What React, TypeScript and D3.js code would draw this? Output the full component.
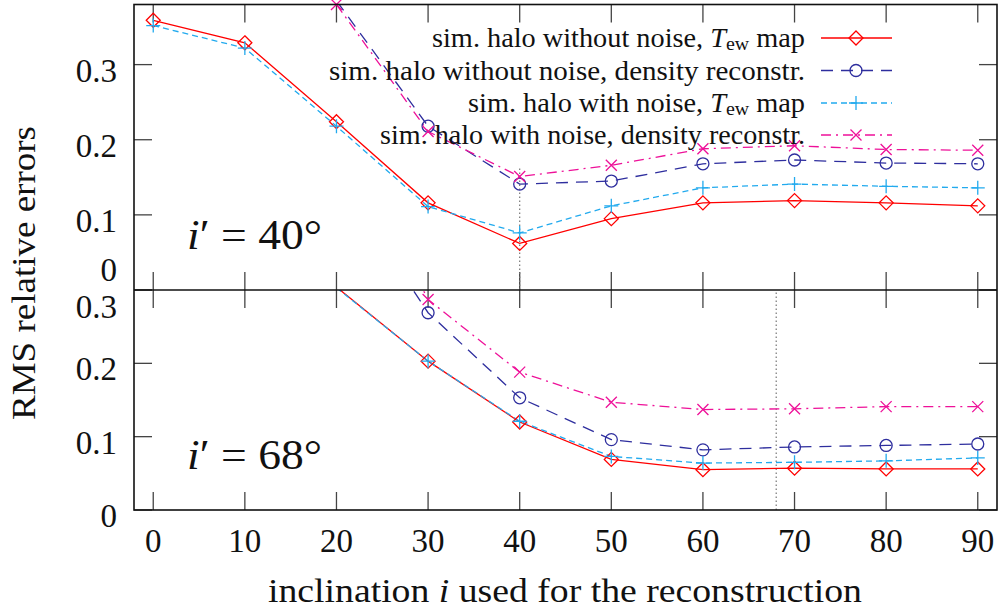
import React from "react";
import * as d3 from "d3";

const inclinations = [0, 10, 20, 30, 40, 50, 60, 70, 80, 90];

// Panel i' = 40°
const top_noNoise_Tew = [0.359, 0.329, 0.224, 0.116, 0.062, 0.095, 0.116, 0.119, 0.116, 0.112];
const top_noNoise_dens = [null, null, 0.385, 0.218, 0.141, 0.145, 0.168, 0.173, 0.169, 0.168];
const top_noise_Tew = [0.352, 0.322, 0.218, 0.111, 0.076, 0.112, 0.136, 0.141, 0.138, 0.136];
const top_noise_dens = [null, null, 0.38, 0.211, 0.151, 0.166, 0.188, 0.192, 0.187, 0.186];

// Panel i' = 68°
const bot_noNoise_Tew = [null, null, 0.304, 0.203, 0.12, 0.069, 0.055, 0.057, 0.056, 0.056];
const bot_noNoise_dens = [null, null, 0.457, 0.269, 0.153, 0.096, 0.082, 0.086, 0.088, 0.09];
const bot_noise_Tew = [null, null, 0.303, 0.203, 0.121, 0.073, 0.064, 0.065, 0.067, 0.071];
const bot_noise_dens = [null, null, 0.53, 0.287, 0.188, 0.147, 0.137, 0.138, 0.141, 0.141];

const xTicks = [0, 10, 20, 30, 40, 50, 60, 70, 80, 90];
const yTicks = [0, 0.1, 0.2, 0.3];
const yTickLabels = ["0", "0.1", "0.2", "0.3"];

const seriesNames = [
  "sim. halo without noise, ",
  "sim. halo without noise, density reconstr.",
  "sim. halo with noise, ",
  "sim. halo with noise, density reconstr.",
];
const legendWidths = [373, 476, 337, 425];

const styles = [
  { color: "#ff0000", dash: "none", marker: "diamond" },
  { color: "#2e2e9e", dash: "12,8", marker: "circle" },
  { color: "#22aaee", dash: "6,4", marker: "plus" },
  { color: "#ee1199", dash: "10,5,2,5", marker: "cross" },
];

const W = 1004;
const H = 611;
const left = 134;
const right = 997;
const topY = 4.5;
const midY = 290;
const botY = 510;
const FONT = "Liberation Serif";

function Marker({ type, x, y, color }: { type: string; x: number; y: number; color: string }) {
  const s = 7;
  if (type === "diamond")
    return <path d={`M${x},${y - s}L${x + s},${y}L${x},${y + s}L${x - s},${y}Z`} fill="none" stroke={color} strokeWidth={1.3} />;
  if (type === "circle") return <circle cx={x} cy={y} r={6} fill="none" stroke={color} strokeWidth={1.3} />;
  if (type === "plus")
    return <path d={`M${x - 7},${y}H${x + 7}M${x},${y - 7}V${y + 7}`} stroke={color} strokeWidth={1.3} />;
  return <path d={`M${x - 5.5},${y - 5.5}L${x + 5.5},${y + 5.5}M${x - 5.5},${y + 5.5}L${x + 5.5},${y - 5.5}`} stroke={color} strokeWidth={1.3} />;
}

function Panel({
  data, yMax, y0, y1, id, label, vline, vlineTop,
}: {
  data: (number | null)[][]; yMax: number; y0: number; y1: number; id: string; label: string; vline: number; vlineTop: number;
}) {
  const x = d3.scaleLinear().domain([-2.1, 92.1]).range([left, right]);
  const y = d3.scaleLinear().domain([0, yMax]).range([y1, y0]);
  const line = d3
    .line<number | null>()
    .defined((d) => d != null)
    .x((_, i) => x(inclinations[i]))
    .y((d) => y(d as number));
  const tickLen = 18;
  return (
    <g>
      <defs>
        <clipPath id={id}>
          <rect x={left} y={y0} width={right - left} height={y1 - y0} />
        </clipPath>
      </defs>
      {xTicks.map((t) => (
        <g key={"xt" + t} stroke="#444" strokeWidth={1.3}>
          <line x1={x(t)} x2={x(t)} y1={y1} y2={y1 - tickLen} />
          <line x1={x(t)} x2={x(t)} y1={y0} y2={y0 + tickLen} />
        </g>
      ))}
      {yTicks.map((t) => (
        <g key={"yt" + t} stroke="#444" strokeWidth={1.3}>
          <line x1={left} x2={left + tickLen} y1={y(t)} y2={y(t)} />
          <line x1={right} x2={right - tickLen} y1={y(t)} y2={y(t)} />
        </g>
      ))}
      <line x1={x(vline)} x2={x(vline)} y1={y(0)} y2={y(vlineTop)} stroke="#777" strokeWidth={1.2} strokeDasharray="1.5,2.5" />
      <g clipPath={`url(#${id})`}>
        {data.map((s, k) => (
          <path key={k} d={line(s) || ""} fill="none" stroke={styles[k].color} strokeWidth={1.3} strokeDasharray={styles[k].dash} />
        ))}
      </g>
      {data.map((s, k) =>
        s.map((v, i) =>
          v != null && v <= yMax + 1e-9 ? (
            <Marker key={k + "-" + i} type={styles[k].marker} x={x(inclinations[i])} y={y(v)} color={styles[k].color} />
          ) : null
        )
      )}
      {yTicks.map((t, i) => {
        let yy = y(t) + 6;
        if (yy > y1 - 10 && id === "clipTop") yy = y1 - 20;
        if (yy < y0 + 16) yy = y0 + 17;
        return (
          <text key={"yl" + t} x={117} y={yy} textAnchor="end" dominantBaseline="central" fontFamily={FONT} fontSize={33} fill="#111">
            {yTickLabels[i]}
          </text>
        );
      })}
      <text x={187} y={y1 - 41} fontFamily={FONT} fontSize={43} fill="#111" textLength={135} lengthAdjust="spacingAndGlyphs">
        <tspan fontStyle="italic">i</tspan>
        <tspan>′ = {label}°</tspan>
      </text>
    </g>
  );
}

export default function App() {
  const xAxis = d3.scaleLinear().domain([-2.1, 92.1]).range([left, right]);
  const legendRows = [38, 70.5, 103, 135];
  return (
    <svg width={W} height={H} style={{ position: "absolute", left: 0, top: 0, background: "#fff" }}>
      <rect x={0} y={0} width={W} height={H} fill="#fff" />
      <Panel
        data={[top_noNoise_Tew, top_noNoise_dens, top_noise_Tew, top_noise_dens]}
        yMax={0.38} y0={topY} y1={midY} id="clipTop" label="40" vline={40} vlineTop={0.165}
      />
      <Panel
        data={[bot_noNoise_Tew, bot_noNoise_dens, bot_noise_Tew, bot_noise_dens]}
        yMax={0.3} y0={midY} y1={botY} id="clipBot" label="68" vline={68} vlineTop={0.3}
      />
      <rect x={left} y={topY} width={right - left} height={botY - topY} fill="none" stroke="#111" strokeWidth={1.6} />
      <line x1={left} x2={right} y1={midY} y2={midY} stroke="#111" strokeWidth={1.6} />
      {seriesNames.map((n, k) => (
        <g key={"lg" + k}>
          <text
            x={805 - legendWidths[k]}
            y={legendRows[k]}
            dominantBaseline="central"
            fontFamily={FONT}
            fontSize={27}
            fill="#111"
            textLength={legendWidths[k]}
            lengthAdjust="spacingAndGlyphs"
          >
            {n}
            {k % 2 === 0 ? (
              <>
                <tspan fontStyle="italic">T</tspan>
                <tspan fontSize={19} dy={5}>ew</tspan>
                <tspan dy={-5}> map</tspan>
              </>
            ) : null}
          </text>
          <line x1={821} x2={892} y1={legendRows[k]} y2={legendRows[k]} stroke={styles[k].color} strokeWidth={1.3} strokeDasharray={styles[k].dash} />
          <Marker type={styles[k].marker} x={856} y={legendRows[k]} color={styles[k].color} />
        </g>
      ))}
      {xTicks.map((t) => (
        <text key={"xl" + t} x={xAxis(t)} y={541} textAnchor="middle" dominantBaseline="central" fontFamily={FONT} fontSize={33} fill="#111">
          {t}
        </text>
      ))}
      <text
        x={268}
        y={590}
        dominantBaseline="central"
        fontFamily={FONT}
        fontSize={34}
        fill="#111"
        textLength={594}
        lengthAdjust="spacingAndGlyphs"
      >
        inclination <tspan fontStyle="italic">i</tspan> used for the reconstruction
      </text>
      <text
        transform="translate(24,420) rotate(-90)"
        dominantBaseline="central"
        fontFamily={FONT}
        fontSize={33}
        fill="#111"
        textLength={294}
        lengthAdjust="spacingAndGlyphs"
      >
        RMS relative errors
      </text>
    </svg>
  );
}
